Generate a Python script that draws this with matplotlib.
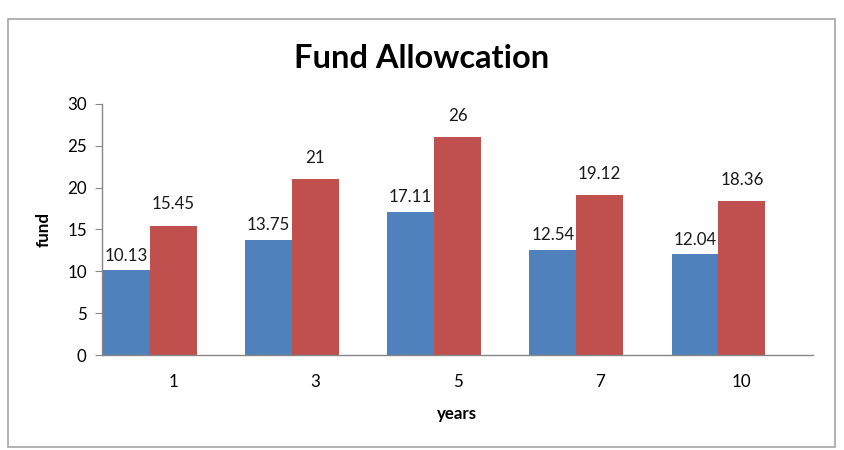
import matplotlib
matplotlib.use("Agg")
import matplotlib.pyplot as plt
from matplotlib.patches import Rectangle
import numpy as np

years = ["1", "3", "5", "7", "10"]
series_a = [10.13, 13.75, 17.11, 12.54, 12.04]
series_b = [15.45, 21, 26, 19.12, 18.36]
labels_a = ["10.13", "13.75", "17.11", "12.54", "12.04"]
labels_b = ["15.45", "21", "26", "19.12", "18.36"]
yticks = [0, 5, 10, 15, 20, 25, 30]

plt.rcParams['font.family'] = ['Lato', 'DejaVu Sans']

W, H = 845, 450
fig = plt.figure(figsize=(W/100, H/100), dpi=100)
fig.patches.append(Rectangle((8/W, 1-447/H), (835-8)/W, (447-19)/H,
                             transform=fig.transFigure, fill=False,
                             edgecolor='#A6A6A6', linewidth=1.2))

ax = fig.add_axes([102/W, 1-355/H, (813-102)/W, (355-104)/H])
x = np.arange(len(years))
w = 0.33
ax.bar(x - w, series_a, width=w, color='#4F81BD')
ax.bar(x, series_b, width=w, color='#C0504D')
for xi, v, t in zip(x - w, series_a, labels_a):
    ax.text(xi, v + 0.8, t, ha='center', va='bottom', fontsize=12.2, color='#1a1a1a')
for xi, v, t in zip(x, series_b, labels_b):
    ax.text(xi, v + 1.6, t, ha='center', va='bottom', fontsize=12.2, color='#1a1a1a')

ax.set_xlim(-0.5, 4.5)
ax.set_ylim(0, 30)
ax.set_yticks(yticks)
ax.set_xticks(x)
ax.set_xticklabels(years)
ax.tick_params(axis='x', length=0, pad=14, labelsize=12.2)
ax.tick_params(axis='y', length=5, direction='out', color='#868686', pad=6, labelsize=12.2)
for s in ['top', 'right']:
    ax.spines[s].set_visible(False)
for s in ['left', 'bottom']:
    ax.spines[s].set_color('#868686')
    ax.spines[s].set_linewidth(1.0)

ax.set_xlabel('years', fontsize=12.2, fontweight='bold', labelpad=11)
ax.set_ylabel('fund', fontsize=12.2, fontweight='bold', labelpad=11)
fig.text(422/W, 1-58/H, 'Fund Allowcation', ha='center', va='center',
         fontsize=23.5, fontweight='bold')

fig.savefig('out.png', dpi=100)
